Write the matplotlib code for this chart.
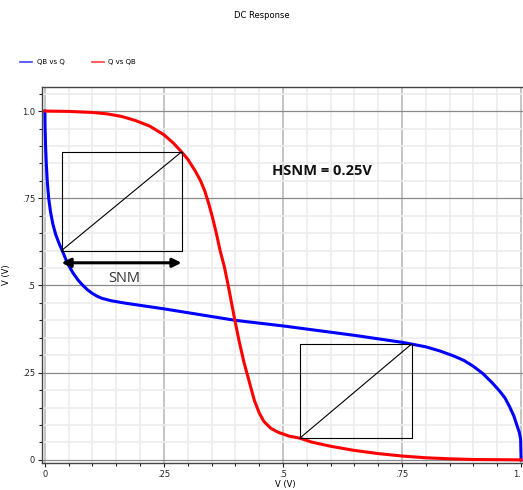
import matplotlib.pyplot as plt
from matplotlib.ticker import MultipleLocator

# QB vs Q (blue)
q_blue = [0.0, 0.0005, 0.0015, 0.003, 0.005, 0.008, 0.012, 0.017, 0.023, 0.03, 0.038,
          0.047, 0.059, 0.07, 0.08, 0.09, 0.10, 0.11, 0.12, 0.14, 0.17, 0.2, 0.25, 0.3,
          0.35, 0.4, 0.45, 0.5, 0.55, 0.6, 0.65, 0.7, 0.75, 0.77, 0.8, 0.83, 0.86, 0.88,
          0.9, 0.92, 0.94, 0.955, 0.966, 0.976, 0.985, 0.991, 0.996, 0.999, 1.0]
qb_blue = [1.0, 0.95, 0.90, 0.85, 0.80, 0.75, 0.71, 0.675, 0.645, 0.62, 0.595,
           0.565, 0.536, 0.515, 0.50, 0.487, 0.477, 0.469, 0.463, 0.456, 0.449, 0.443,
           0.433, 0.422, 0.411, 0.400, 0.392, 0.384, 0.375, 0.366, 0.357, 0.347, 0.337,
           0.332, 0.324, 0.312, 0.297, 0.285, 0.268, 0.247, 0.22, 0.197, 0.178, 0.152,
           0.125, 0.10, 0.08, 0.06, 0.0]

# Q vs QB (red)
qb_red = [0.0, 0.05, 0.1, 0.13, 0.16, 0.19, 0.22, 0.25, 0.27, 0.287, 0.30, 0.315,
          0.327, 0.336, 0.344, 0.352, 0.36, 0.368, 0.377, 0.385, 0.392, 0.399, 0.408,
          0.418, 0.429, 0.44, 0.45, 0.46, 0.475, 0.49, 0.513, 0.536, 0.56, 0.6, 0.65,
          0.7, 0.75, 0.8, 0.85, 0.9, 1.0]
q_red = [1.0, 0.999, 0.996, 0.992, 0.985, 0.973, 0.957, 0.932, 0.908, 0.883, 0.862,
         0.83, 0.80, 0.77, 0.735, 0.695, 0.65, 0.60, 0.553, 0.50, 0.45, 0.40, 0.34,
         0.28, 0.225, 0.17, 0.135, 0.11, 0.09, 0.079, 0.068, 0.062, 0.051, 0.039,
         0.027, 0.018, 0.011, 0.006, 0.003, 0.001, 0.0]

# squares drawn for the noise margin (x0, y0, x1, y1)
box1 = (0.035, 0.60, 0.287, 0.883)
box2 = (0.536, 0.063, 0.770, 0.332)
arrow_y = 0.565

xticks = [0, 0.25, 0.5, 0.75, 1.0]
xtick_labels = ["0", ".25", ".5", ".75", "1."]
yticks = [0, 0.25, 0.5, 0.75, 1.0]
ytick_labels = ["0", ".25", ".5", ".75", "1.0"]

fig = plt.figure(figsize=(5.23, 4.9), dpi=100)
ax = fig.add_axes([42 / 523, 27 / 490, 481 / 523, 376 / 490])

ax.set_xlim(-0.006, 1.004)
ax.set_ylim(-0.009, 1.069)

# grid
ax.xaxis.set_minor_locator(MultipleLocator(0.05))
ax.yaxis.set_minor_locator(MultipleLocator(0.05))
ax.grid(which="minor", color="#ececec", lw=1.2, zorder=0)
ax.grid(which="major", axis="x", color="#c4c4c4", lw=1.4, zorder=0)
ax.grid(which="major", axis="y", color="#8a8a8a", lw=0.9, zorder=0)
ax.set_axisbelow(True)

ax.set_xticks(xticks)
ax.set_xticklabels(xtick_labels)
ax.set_yticks(yticks)
ax.set_yticklabels(ytick_labels)
ax.tick_params(which="both", direction="out", length=3, width=0.8, labelsize=6,
               colors="#222222", pad=2)
ax.tick_params(which="minor", length=2.5)
ax.get_xticklabels()[-1].set_horizontalalignment("right")

for s in ["left", "bottom", "top"]:
    ax.spines[s].set_color("#444444")
    ax.spines[s].set_linewidth(1.0)
ax.spines["right"].set_visible(False)

ax.plot(q_blue, qb_blue, color="#0000ff", lw=2.2, zorder=3, label="QB vs Q")
ax.plot(qb_red, q_red, color="#ff0000", lw=2.2, zorder=3, label="Q vs QB")

for (x0, y0, x1, y1) in [box1, box2]:
    ax.plot([x0, x1, x1, x0, x0], [y0, y0, y1, y1, y0], color="black", lw=0.8, zorder=4)
    ax.plot([x0, x1], [y0, y1], color="black", lw=0.8, zorder=4)

ax.annotate("", xy=(box1[0], arrow_y), xytext=(box1[2], arrow_y),
            arrowprops=dict(arrowstyle="<|-|>", color="black", lw=2.2,
                            mutation_scale=13, shrinkA=0, shrinkB=0), zorder=5)
ax.text(0.167, 0.52, "SNM", fontsize=10.5, color="#333333", ha="center", va="center",
        family="Open Sans")
ax.text(0.477, 0.828, "HSNM = 0.25V", fontsize=10.5, fontweight="bold", color="#111111",
        ha="left", va="center", family="Open Sans")

ax.set_ylabel("V (V)", fontsize=6, labelpad=8)

fig.text(0.5, 1 - 15 / 490, "DC Response", fontsize=6, ha="center", va="center")
fig.text(285 / 523, 1 / 490, "V (V)", fontsize=6, ha="center", va="bottom")

# legend drawn by hand like the simulator's header
fig.lines.append(plt.Line2D([20 / 523, 32 / 523], [1 - 62 / 490] * 2, color="#4040ff",
                            lw=1.2, transform=fig.transFigure))
fig.text(37 / 523, 1 - 62 / 490, "QB vs Q", fontsize=5, va="center")
fig.lines.append(plt.Line2D([92 / 523, 104 / 523], [1 - 62 / 490] * 2, color="#ff4040",
                            lw=1.2, transform=fig.transFigure))
fig.text(108 / 523, 1 - 62 / 490, "Q vs QB", fontsize=5, va="center")

fig.savefig("out.png", dpi=100)
